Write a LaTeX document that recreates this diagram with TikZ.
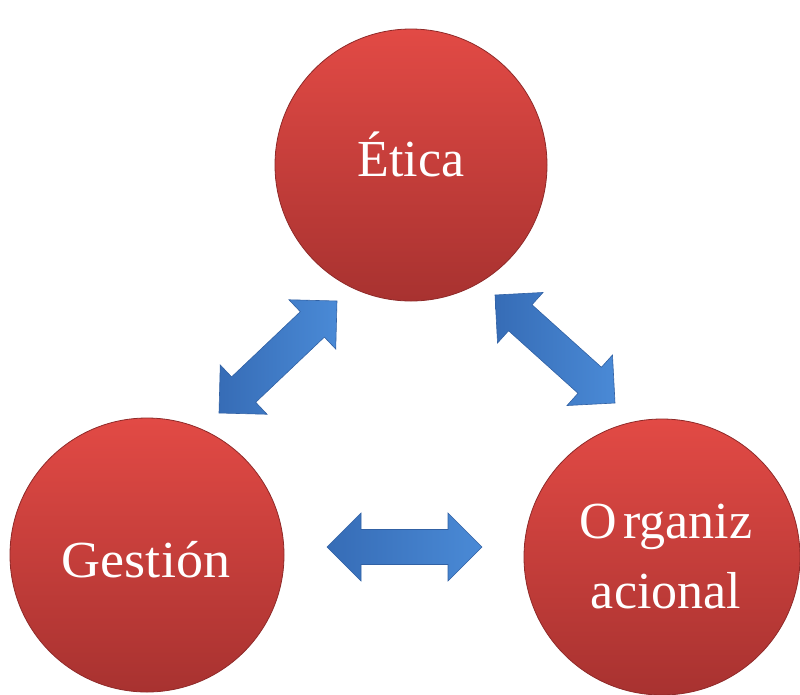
\documentclass[tikz,border=0pt]{standalone}
\usepackage{fontspec}
\setmainfont{Liberation Serif}
\usetikzlibrary{calc}
\definecolor{bubbletop}{RGB}{226,74,69}
\definecolor{bubblebottom}{RGB}{168,50,48}
\definecolor{arrowdark}{RGB}{54,108,182}
\definecolor{arrowlight}{RGB}{74,138,214}
\tikzset{
  bubble/.style={circle, minimum size=272pt, inner sep=0pt,
    top color=bubbletop, bottom color=bubblebottom,
    draw=bubblebottom!85!black, line width=0.8pt},
  lbl/.style={text=white, inner sep=0pt, font=\fontsize{52}{70}\selectfont},
  flow/.style={left color=arrowdark, right color=arrowlight,
    draw=arrowdark!90!black, line width=0.6pt, line join=miter},
}
% double-headed block arrow between two named points
\newcommand\linkarrow[2]{%
  \path[flow] (#1)
    -- ($(#1)!34pt!(#2)!34pt!90:(#2)$)
    -- ($(#1)!34pt!(#2)!17.5pt!90:(#2)$)
    -- ($(#2)!34pt!(#1)!17.5pt!-90:(#1)$)
    -- ($(#2)!34pt!(#1)!34pt!-90:(#1)$)
    -- (#2)
    -- ($(#2)!34pt!(#1)!34pt!90:(#1)$)
    -- ($(#2)!34pt!(#1)!17.5pt!90:(#1)$)
    -- ($(#1)!34pt!(#2)!17.5pt!-90:(#2)$)
    -- ($(#1)!34pt!(#2)!34pt!-90:(#2)$)
    -- cycle;}
\begin{document}
\begin{tikzpicture}[x=1pt,y=-1pt]
\useasboundingbox (0,0) rectangle (800,694);

% the three circles
\node[bubble] (etica)   at (411,165) {};
\node[bubble, minimum size=274pt] (gestion) at (147,555) {};
\node[bubble, minimum size=276pt] (organiz) at (662,557) {};

% labels
\node[lbl, anchor=base] (eticaT)   at (411,176) {Ética};
\node[lbl, anchor=base, xscale=1.04] (gestionT) at (146,577) {Gestión};
\node[lbl, anchor=base] (organizT) at (666,538) {O\kern6pt rganiz};
\node[lbl, anchor=base] (acionalT) at (666,608) {acional};

% arrow end points
\coordinate (gtail) at (219,413);
\coordinate (ghead) at (337,301);
\coordinate (otail) at (495,295);
\coordinate (ohead) at (615,403);
\coordinate (htail) at (327,547);
\coordinate (hhead) at (482,547);

\linkarrow{gtail}{ghead}
\linkarrow{otail}{ohead}
\linkarrow{htail}{hhead}
\end{tikzpicture}
\end{document}
